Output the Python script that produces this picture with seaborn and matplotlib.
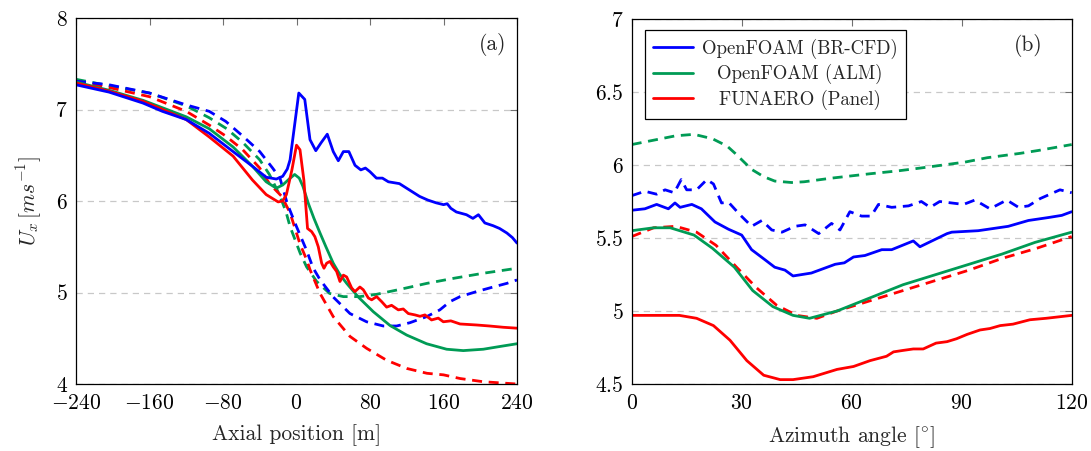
import numpy as np
import pandas as pd
import matplotlib
matplotlib.use("Agg")
import matplotlib.pyplot as plt
import seaborn as sns
from matplotlib.lines import Line2D

# ---------------- data: panel (a) axial profiles ----------------
a_x_br = [-240, -204, -167, -146, -120, -95, -69, -48, -33, -22, -15, -10, -7, 2.5, 9, 14.7, 21, 27, 33.5, 40,
          45.5, 51, 57, 63.7, 70, 75, 80, 87, 93.5, 100, 112, 123, 134, 143, 152, 160, 164, 168, 174, 185,
          192, 198, 205, 214, 221, 229, 235, 240]
a_y_br = [7.27, 7.19, 7.07, 6.98, 6.89, 6.74, 6.54, 6.38, 6.26, 6.24, 6.27, 6.35, 6.45, 7.18, 7.11, 6.67, 6.55, 6.64, 6.73, 6.54,
          6.44, 6.54, 6.54, 6.39, 6.34, 6.36, 6.32, 6.25, 6.25, 6.21, 6.19, 6.12, 6.05, 6.01, 5.98, 5.96, 5.97, 5.92, 5.88, 5.85,
          5.81, 5.85, 5.76, 5.73, 5.70, 5.65, 5.60, 5.54]

a_x_alm = [-240, -204, -167, -120, -95, -69, -48, -33, -22, -15, -8, -2, 3, 7, 13, 19, 25.6, 32, 40, 47, 54.6, 67.3,
           83.6, 101.7, 119.9, 141.6, 163.4, 181.5, 203.3, 221.4, 240]
a_y_alm = [7.30, 7.21, 7.10, 6.92, 6.79, 6.59, 6.38, 6.21, 6.14, 6.175, 6.24, 6.29, 6.25, 6.16, 5.97, 5.81, 5.65, 5.50, 5.32, 5.20, 5.10, 4.95,
           4.79, 4.64, 4.535, 4.44, 4.38, 4.365, 4.38, 4.41, 4.44]

a_x_pan = [-240, -204, -167, -120, -95, -69, -48, -33, -20, -15, -11, -5, 0, 3.8, 8, 12, 16.5, 20, 23.7, 27.4,
           29.9, 32.8, 36.4, 40, 43.7, 47.3, 51, 54.6, 60, 63.6, 69, 72.7, 78.2, 81.8, 87.2, 92.7, 98.1, 103.5, 110.8, 116.2,
           121.7, 129, 134.4, 139.8, 147, 154.3, 159.8, 168, 178, 196, 210, 225, 240]
a_y_pan = [7.29, 7.20, 7.09, 6.89, 6.70, 6.49, 6.23, 6.07, 5.99, 6.00, 6.07, 6.34, 6.61, 6.56, 6.23, 5.70, 5.665, 5.61, 5.50, 5.32,
           5.265, 5.32, 5.34, 5.28, 5.23, 5.12, 5.19, 5.17, 5.05, 5.01, 5.06, 5.03, 4.94, 4.92, 4.955, 4.90, 4.84, 4.86, 4.81, 4.82,
           4.77, 4.755, 4.74, 4.755, 4.70, 4.72, 4.68, 4.69, 4.656, 4.645, 4.634, 4.62, 4.61]

a_x_br_d = [-240, -204, -160, -120, -95, -77, -58.5, -40, -26, -18, -10, 0, 11, 18, 25.6, 40, 58.2, 76.3, 94.5, 109,
            123.5, 141.6, 156, 167, 178, 196, 214, 229, 240]
a_y_br_d = [7.31, 7.27, 7.18, 7.05, 6.98, 6.87, 6.71, 6.54, 6.36, 6.25, 5.97, 5.72, 5.46, 5.27, 5.14, 4.95, 4.77, 4.68, 4.634, 4.634,
            4.67, 4.736, 4.81, 4.90, 4.955, 5.01, 5.06, 5.10, 5.137]

a_x_alm_d = [-240, -204, -160, -120, -95, -76, -58.5, -40, -29.5, -18.6, -11.4, -7, 4, 11, 22, 36, 51, 69, 87, 113,
             142, 171, 203, 240]
a_y_alm_d = [7.33, 7.26, 7.18, 7.04, 6.91, 6.79, 6.64, 6.45, 6.29, 6.07, 5.88, 5.72, 5.43, 5.28, 5.12, 4.99, 4.955, 4.955, 4.98, 5.035,
             5.10, 5.155, 5.21, 5.265]

a_x_pan_d = [-240, -204, -160, -120, -95, -77, -58.5, -40, -29.5, -16, -7, 3.8, 11, 14.7, 25.6, 40, 58.2, 76.3, 98, 120,
             142, 160, 178, 203, 240]
a_y_pan_d = [7.31, 7.24, 7.14, 6.98, 6.83, 6.71, 6.56, 6.36, 6.19, 6.05, 5.87, 5.53, 5.36, 5.25, 4.99, 4.736, 4.52, 4.39, 4.26, 4.17,
             4.117, 4.10, 4.06, 4.025, 4.0]

# ---------------- data: panel (b) azimuthal profiles ----------------
b_x_br = [0, 3.6, 6.8, 10, 11.8, 13.2, 16.4, 19, 22.7, 26.4, 30, 32.7, 36.4, 39, 41.8, 44, 49, 55.5, 58, 60.5,
          63.6, 68.2, 70.9, 76.8, 78.6, 86, 87.3, 94.5, 102.7, 108.2, 113.6, 117.3, 120]
b_y_br = [5.69, 5.70, 5.73, 5.70, 5.74, 5.71, 5.73, 5.70, 5.61, 5.56, 5.52, 5.42, 5.35, 5.30, 5.28, 5.24, 5.26, 5.32, 5.33, 5.37,
          5.38, 5.42, 5.42, 5.48, 5.44, 5.53, 5.54, 5.55, 5.58, 5.62, 5.64, 5.655, 5.68]

b_x_br_d = [0, 3.6, 6.8, 9.1, 11.6, 13.5, 15, 17.7, 20.5, 22.3, 24.5, 26.4, 29.5, 32.7, 35.5, 38.2, 41, 44.5, 47.3, 51,
            54.5, 56.8, 59.5, 62.7, 65.3, 67.3, 70.9, 75.5, 79, 81.4, 84, 90.5, 93.6, 97.7, 102.3, 105.5, 108.2, 111.4, 116.8, 120]
b_y_br_d = [5.79, 5.82, 5.80, 5.83, 5.81, 5.90, 5.83, 5.83, 5.90, 5.87, 5.74, 5.745, 5.66, 5.58, 5.62, 5.555, 5.54, 5.58, 5.59, 5.53,
            5.60, 5.555, 5.68, 5.65, 5.65, 5.73, 5.71, 5.72, 5.75, 5.71, 5.75, 5.73, 5.76, 5.70, 5.76, 5.71, 5.72, 5.77, 5.83, 5.81]

b_x_alm = [0, 6, 10.5, 17, 22, 28, 33, 38.5, 44, 48.5, 56, 65, 74, 83, 92, 101, 110, 120]
b_y_alm = [5.55, 5.57, 5.57, 5.52, 5.43, 5.30, 5.14, 5.03, 4.97, 4.95, 5.00, 5.09, 5.18, 5.25, 5.32, 5.39, 5.47, 5.54]

b_x_alm_d = [0, 6, 12, 17, 22, 26, 28.2, 32.7, 36, 39, 43.6, 47, 54.5, 65, 72.7, 79, 90.9, 97, 106, 111, 120]
b_y_alm_d = [6.14, 6.17, 6.20, 6.21, 6.18, 6.13, 6.08, 5.97, 5.92, 5.89, 5.88, 5.885, 5.91, 5.94, 5.96, 5.98, 6.02, 6.05, 6.08, 6.10, 6.14]

b_x_pan = [0, 13, 17.7, 22.3, 26.8, 31.4, 36, 40.5, 44, 49.5, 56, 60.5, 65, 69.5, 71.4, 74, 76.8, 79.5, 83, 86,
           88.6, 91.5, 95, 97.7, 100.5, 104, 108.6, 113, 120]
b_y_pan = [4.97, 4.97, 4.95, 4.90, 4.80, 4.66, 4.56, 4.53, 4.53, 4.55, 4.60, 4.62, 4.66, 4.69, 4.72, 4.73, 4.74, 4.74, 4.78, 4.79,
           4.81, 4.84, 4.87, 4.88, 4.90, 4.91, 4.94, 4.95, 4.97]

b_x_pan_d = [0, 6, 12, 17.7, 23, 28.6, 34, 39.5, 45, 50.5, 56, 65, 74, 83, 92, 101, 110.5, 120]
b_y_pan_d = [5.51, 5.57, 5.58, 5.54, 5.45, 5.30, 5.16, 5.04, 4.97, 4.95, 5.00, 5.07, 5.14, 5.21, 5.28, 5.36, 5.43, 5.51]

labels = ["OpenFOAM (BR-CFD)", "OpenFOAM (ALM)", "FUNAERO (Panel)"]

xticks_a = [-240, -160, -80, 0, 80, 160, 240]
yticks_a = [4, 5, 6, 7, 8]
xticks_b = [0, 30, 60, 90, 120]
yticks_b = [4.5, 5, 5.5, 6, 6.5, 7]
ytick_labels_b = ["4.5", "5", "5.5", "6", "6.5", "7"]

# ---------------- style ----------------
sns.set_theme(style="white")
plt.rcParams["font.family"] = ["cmr10", "DejaVu Serif"]
plt.rcParams["mathtext.fontset"] = "cm"
plt.rcParams["axes.unicode_minus"] = False
plt.rcParams["axes.formatter.use_mathtext"] = True

BLUE = "#0000FF"
GREEN = "#009B55"
RED = "#FF0000"
LW = 2.0
DASH = (0, (3.6, 2.4))
FS = 15.5

fig = plt.figure(figsize=(10.91, 4.51), dpi=100)
ax_a = fig.add_axes([76 / 1091, 1 - 384 / 451, 441 / 1091, 366 / 451])
ax_b = fig.add_axes([631.7 / 1091, 1 - 384 / 451, 440 / 1091, 365 / 451])


def draw(ax, x, y, color, ls, label=None):
    df = pd.DataFrame({"x": x, "y": y})
    sns.lineplot(data=df, x="x", y="y", ax=ax, color=color, linewidth=LW,
                 linestyle=ls, estimator=None, sort=False, label=label, legend=False)


# panel (a)
draw(ax_a, a_x_alm_d, a_y_alm_d, GREEN, DASH)
draw(ax_a, a_x_pan_d, a_y_pan_d, RED, DASH)
draw(ax_a, a_x_br_d, a_y_br_d, BLUE, DASH)
draw(ax_a, a_x_alm, a_y_alm, GREEN, "-")
draw(ax_a, a_x_pan, a_y_pan, RED, "-")
draw(ax_a, a_x_br, a_y_br, BLUE, "-")

# panel (b)
draw(ax_b, b_x_alm_d, b_y_alm_d, GREEN, DASH)
draw(ax_b, b_x_br_d, b_y_br_d, BLUE, DASH)
draw(ax_b, b_x_pan_d, b_y_pan_d, RED, DASH)
draw(ax_b, b_x_pan, b_y_pan, RED, "-")
draw(ax_b, b_x_alm, b_y_alm, GREEN, "-")
draw(ax_b, b_x_br, b_y_br, BLUE, "-")

for ax, xt, yt, ytl, xl, yl in [
    (ax_a, xticks_a, yticks_a, [f"${v}$" for v in yticks_a], (-240, 240), (4, 8)),
    (ax_b, xticks_b, yticks_b, [f"${v}$" for v in ytick_labels_b], (0, 120), (4.5, 7)),
]:
    ax.set_xlim(*xl)
    ax.set_ylim(*yl)
    ax.set_xticks(xt)
    ax.set_xticklabels([f"${v}$" for v in xt], fontsize=FS)
    ax.set_yticks(yt)
    ax.set_yticklabels(ytl, fontsize=FS)
    ax.tick_params(axis="both", which="both", direction="in", top=True, right=True,
                   length=5, width=0.8, color="#707070", labelcolor="black")
    ax.tick_params(axis="x", pad=7)
    ax.tick_params(axis="y", pad=6)
    ax.yaxis.grid(True, linestyle=(0, (5, 4)), color="#c8c8c8", linewidth=0.9)
    ax.xaxis.grid(False)
    ax.set_axisbelow(True)
    for s in ax.spines.values():
        s.set_color("black")
        s.set_linewidth(0.9)
        s.set_zorder(5)

ax_a.set_xlabel("Axial position [m]", fontsize=FS, labelpad=8)
ax_a.set_ylabel(r"$U_x\,[ms^{-1}]$", fontsize=FS, labelpad=8)
ax_b.set_xlabel(r"Azimuth angle [$^{\circ}$]", fontsize=FS, labelpad=8)
ax_b.set_ylabel("")

ax_a.text(0.977, 0.96, "(a)", transform=ax_a.transAxes, ha="right", va="top", fontsize=FS)
ax_b.text(0.935, 0.96, "(b)", transform=ax_b.transAxes, ha="right", va="top", fontsize=FS)

handles = [Line2D([], [], color=c, lw=LW) for c in (BLUE, GREEN, RED)]
leg = ax_b.legend(handles, labels, loc="upper left", bbox_to_anchor=(0.03, 0.97),
                  borderaxespad=0, fontsize=13.5, frameon=True, fancybox=False,
                  framealpha=1, edgecolor="black", handlelength=2.1,
                  handletextpad=0.5, labelspacing=0.3, borderpad=0.45)
leg.get_frame().set_linewidth(0.9)

# centre legend texts like the reference
fig.canvas.draw()
r = fig.canvas.get_renderer()
widths = [t.get_window_extent(r).width for t in leg.get_texts()]
wmax = max(widths)
for t, w in zip(leg.get_texts(), widths):
    t.set_position(((wmax - w) / 2, 0))

fig.savefig("out.png", dpi=100)
